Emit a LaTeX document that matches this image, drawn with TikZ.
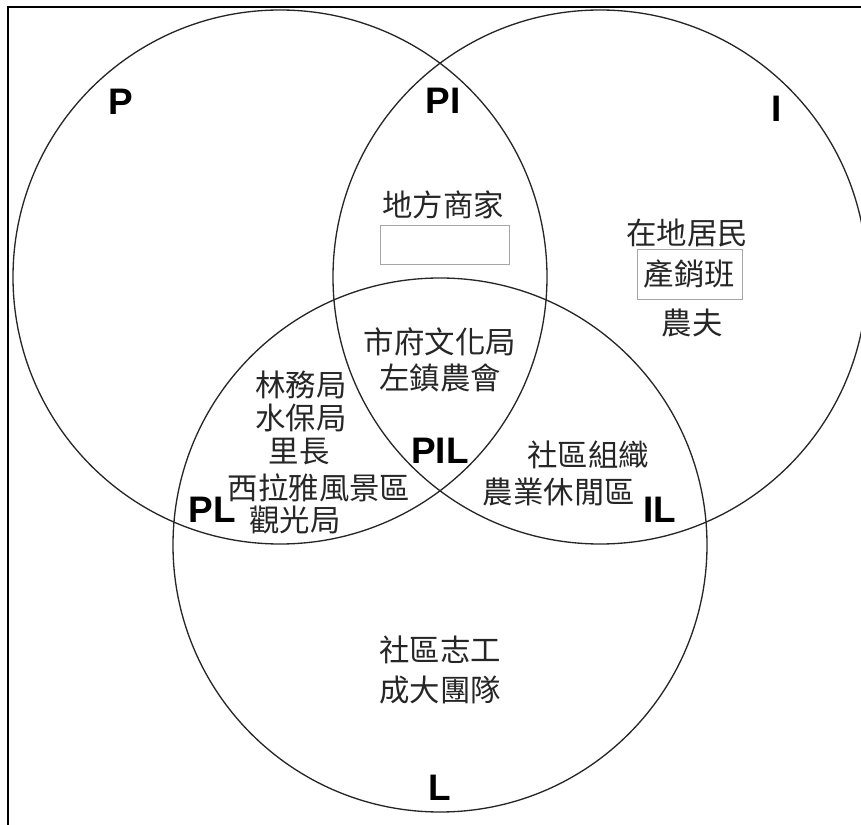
\documentclass[tikz,border=0pt]{standalone}
\usepackage{fontspec}
\setsansfont{Liberation Sans}
\newfontfamily\cjk{Noto Sans CJK TC}
\usepackage{tikz}
\usetikzlibrary{positioning}

\begin{document}
\begin{tikzpicture}[
    set/.style={line width=0.75pt, black!85},
    region/.style={font=\sffamily\bfseries\fontsize{21}{25}\selectfont, inner sep=0pt},
    actor/.style={font=\cjk\fontsize{17.3}{20}\selectfont, text=black!85, inner sep=0pt},
    actorbox/.style={draw=black!35, line width=0.5pt, minimum width=2.1cm, minimum height=1cm}
]
    \useasboundingbox (0,0) rectangle (17.22,16.5);

    % Frame (left and top edges only are visible)
    \draw[line width=1.1pt] (0.16,0) -- (0.16,16.36) -- (17.22,16.36);

    % The three sets
    \draw[set] (5.60,10.96) circle (5.34);
    \draw[set] (12.00,10.96) circle (5.34);
    \draw[set] (8.80,5.60) circle (5.34);

    % Region labels
    \node[region] (P) at (2.42,14.46) {P};
    \node[region] (PI) at (8.86,14.48) {PI};
    \node[region] (I) at (15.54,14.32) {I};
    \node[region] (PL) at (4.24,6.30) {PL};
    \node[region] (PIL) at (8.80,7.48) {PIL};
    \node[region] (IL) at (13.20,6.30) {IL};
    \node[region] (L) at (8.80,0.74) {L};

    % PI: local merchants
    \node[actor] (merchant) at (8.86,12.40) {地方商家};
    \node[actorbox, minimum width=2.58cm, minimum height=0.77cm] (blank) at (8.89,11.60) {};

    % I: residents
    \node[actor] (resident) at (13.74,11.84) {在地居民};
    \node[actor, actorbox] (coop) at (13.79,11.02) {產銷班};
    \node[actor] (farmer) at (13.84,10.04) {農夫};

    % PIL
    \node[actor] (culture) at (8.80,9.66) {市府文化局};
    \node[actor] (assoc) at (8.80,8.94) {左鎮農會};

    % PL: public agencies
    \foreach \name/\x/\y/\txt in {forest/6.02/8.80/林務局, water/6.02/8.14/水保局,
        chief/5.98/7.46/里長, siraya/6.38/6.74/西拉雅風景區, tourism/5.90/6.10/觀光局} {
        \node[actor] (\name) at (\x,\y) {\txt};
    }

    % IL
    \node[actor] (community) at (11.76,7.40) {社區組織};
    \node[actor] (leisure) at (11.18,6.66) {農業休閒區};

    % L
    \node[actor] (volunteer) at (8.80,3.50) {社區志工};
    \node[actor] (ncku) at (8.80,2.70) {成大團隊};

\end{tikzpicture}
\end{document}
